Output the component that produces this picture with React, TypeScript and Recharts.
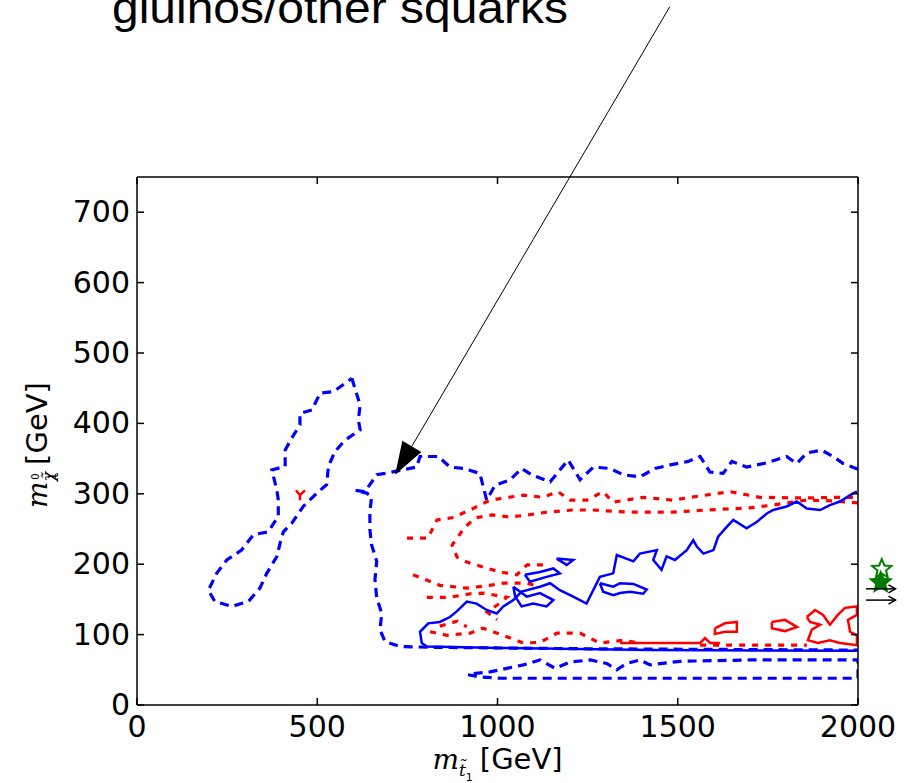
import { LineChart, Line, XAxis, YAxis } from "recharts";

const W = 919;
const H = 783;
// plot box in page pixels
const PLOT = { left: 137, top: 177, right: 858, bottom: 705 };
const X_DOMAIN: [number, number] = [0, 2000];
const Y_DOMAIN: [number, number] = [0, 750];
const xTicks = [0, 500, 1000, 1500, 2000];
const yTicks = [0, 100, 200, 300, 400, 500, 600, 700];

type Pt = [number, number];

// blue dashed, left island
const blueDashLeft: Pt[] = [
  [596, 464], [619, 426], [614, 405], [619, 391], [577, 376], [549, 360], [531, 339],
  [526, 313], [499, 301], [461, 282], [429, 258], [406, 246], [397, 230], [388, 211],
  [360, 187], [341, 166], [309, 147], [263, 140], [216, 147], [198, 163], [221, 187],
  [249, 206], [290, 220], [323, 242], [364, 246], [392, 268], [392, 291], [388, 305],
  [374, 334], [411, 339], [411, 362], [429, 379], [452, 398], [452, 414], [485, 419],
  [508, 443], [545, 445], [577, 457], [596, 464],
];

// blue dashed, big region on the right
const blueDashBig: Pt[] = [
  [2000, 335], [1959, 343], [1931, 353], [1899, 362], [1858, 358], [1830, 343], [1802, 353],
  [1747, 344], [1691, 338], [1650, 346], [1626, 329], [1589, 331], [1562, 353], [1529, 346],
  [1479, 341], [1437, 336], [1395, 324], [1349, 327], [1312, 336], [1266, 338], [1229, 320],
  [1196, 348], [1146, 317], [1095, 327], [1067, 336], [1035, 320], [993, 312], [970, 291],
  [951, 329], [905, 336], [868, 338], [836, 353], [785, 353], [776, 338], [688, 329],
  [665, 327], [632, 303], [605, 305], [637, 301], [651, 296], [646, 275], [646, 249],
  [651, 227], [665, 204], [660, 178], [665, 152], [679, 130], [674, 107], [688, 90],
  [730, 83], [813, 82], [1200, 80], [1600, 79], [2000, 78],
];

// blue dashed, low band
const blueDashLow: Pt[] = [
  [918, 43], [951, 40], [1007, 38], [1400, 38], [2000, 38], [2000, 64], [1700, 64],
  [1506, 62], [1423, 57], [1395, 64], [1358, 59], [1331, 50], [1303, 59], [1257, 64],
  [1201, 61], [1160, 52], [1118, 64], [1072, 57], [1026, 52], [979, 47], [924, 44], [918, 43],
];

// blue solid main contour
const blueSolid: Pt[] = [
  [1997, 303], [1987, 301], [1950, 289], [1922, 284], [1895, 277], [1858, 279], [1830, 289],
  [1802, 282], [1765, 277], [1747, 272], [1719, 260], [1691, 251], [1654, 263], [1636, 253],
  [1612, 239], [1599, 220], [1571, 215], [1553, 225], [1543, 234], [1525, 220], [1492, 206],
  [1469, 211], [1455, 192], [1432, 206], [1442, 220], [1395, 215], [1377, 204], [1331, 213],
  [1321, 187], [1284, 182], [1247, 144], [1210, 154], [1173, 163], [1146, 173], [1118, 168],
  [1067, 161], [1044, 149], [1016, 140], [998, 130], [970, 135], [942, 144], [915, 147],
  [887, 133], [868, 125], [840, 118], [808, 116], [785, 104], [790, 88], [804, 83],
  [1007, 81], [1423, 78], [2000, 77],
];
const blueLoopA: Pt[] = [[1076, 185], [1118, 189], [1155, 194], [1173, 187], [1136, 182], [1090, 175], [1076, 185]];
const blueLoopA2: Pt[] = [[1164, 208], [1210, 206], [1192, 199], [1164, 208]];
const blueLoopB: Pt[] = [
  [1044, 168], [1081, 154], [1118, 159], [1155, 149], [1136, 140], [1099, 144], [1067, 140], [1049, 154], [1044, 168],
];
const blueLoopC: Pt[] = [
  [1284, 173], [1321, 168], [1340, 173], [1377, 172], [1414, 164], [1404, 158], [1368, 161],
  [1340, 159], [1321, 156], [1293, 161], [1284, 173],
];

// red dashed pieces
const redDash1: Pt[] = [
  [749, 237], [807, 237], [832, 263], [874, 266], [924, 277], [979, 291], [1071, 298], [1126, 295],
  [1168, 303], [1201, 291], [1248, 291], [1293, 303], [1320, 288], [1404, 295], [1487, 291],
  [1562, 297], [1645, 303], [1728, 295], [1856, 294], [1931, 295], [2000, 295],
];
const redDash2: Pt[] = [
  [2000, 287], [1931, 290], [1856, 291], [1764, 284], [1700, 280], [1581, 277], [1487, 274],
  [1359, 274], [1265, 277], [1209, 277], [1137, 274], [1085, 270], [1035, 267], [985, 270],
  [940, 266], [910, 253], [874, 227], [888, 210], [915, 203], [960, 196], [1007, 189],
  [1054, 185], [1082, 199], [1132, 199],
];
const redDash3: Pt[] = [[766, 185], [840, 170], [915, 166], [979, 170], [1015, 173], [1082, 173], [1118, 168]];
const redDash4: Pt[] = [[804, 153], [868, 153], [924, 158], [960, 159], [1026, 153], [999, 142], [971, 132], [999, 121]];
const redDash5: Pt[] = [
  [813, 104], [860, 99], [924, 102], [960, 109], [1026, 97], [1071, 88], [1118, 89], [1165, 102],
  [1229, 102], [1284, 88], [1348, 92], [1395, 88],
];
const redDash6: Pt[] = [[840, 112], [888, 119], [915, 111]];
const redDash7: Pt[] = [[1562, 85], [1728, 85], [1858, 85]];

// red solid pieces
const redSolid1: Pt[] = [[1340, 88], [1562, 88], [1576, 95], [1590, 88], [1617, 88]];
const redSolid2: Pt[] = [[1603, 109], [1631, 116], [1664, 118], [1664, 104], [1631, 104], [1603, 101], [1603, 109]];
const redSolid3: Pt[] = [[1761, 118], [1797, 121], [1831, 111], [1797, 105], [1761, 109], [1761, 118]];
const redSolid4: Pt[] = [
  [1858, 125], [1881, 135], [1903, 128], [1922, 114], [1944, 128], [1964, 138], [1997, 140],
  [1997, 128], [1972, 121], [1978, 104], [1997, 99], [1997, 85], [1950, 88], [1922, 92],
  [1889, 88], [1861, 92], [1872, 107], [1895, 114], [1867, 118], [1858, 125],
];
const redSolid5: Pt[] = [[441, 305], [452, 298], [466, 305], [452, 298], [452, 291]];

// annotation (data units)
const arrowTail: Pt = [1478, 992];
const arrowTip: Pt = [716, 327];
const starOpen: Pt = [2066, 193];
const starFilled: Pt = [2063, 174];
const sideArrows: Pt[] = [[2022, 165], [2022, 149]];
const sideArrowLen = 82;

const BLUE = "#0000ff";
const RED = "#ff0000";

const series = [
  { d: blueDashLeft, c: BLUE, dash: true },
  { d: blueDashBig, c: BLUE, dash: true },
  { d: blueDashLow, c: BLUE, dash: true },
  { d: redDash1, c: RED, dash: true },
  { d: redDash2, c: RED, dash: true },
  { d: redDash3, c: RED, dash: true },
  { d: redDash4, c: RED, dash: true },
  { d: redDash5, c: RED, dash: true },
  { d: redDash6, c: RED, dash: true },
  { d: redDash7, c: RED, dash: true },
  { d: redSolid1, c: RED, dash: false },
  { d: redSolid2, c: RED, dash: false },
  { d: redSolid3, c: RED, dash: false },
  { d: redSolid4, c: RED, dash: false },
  { d: redSolid5, c: RED, dash: false },
  { d: blueSolid, c: BLUE, dash: false },
  { d: blueLoopA, c: BLUE, dash: false },
  { d: blueLoopA2, c: BLUE, dash: false },
  { d: blueLoopB, c: BLUE, dash: false },
  { d: blueLoopC, c: BLUE, dash: false },
];

const px = (x: number) => PLOT.left + ((x - X_DOMAIN[0]) / (X_DOMAIN[1] - X_DOMAIN[0])) * (PLOT.right - PLOT.left);
const py = (y: number) => PLOT.bottom - ((y - Y_DOMAIN[0]) / (Y_DOMAIN[1] - Y_DOMAIN[0])) * (PLOT.bottom - PLOT.top);

const TICK_FONT = "'DejaVu Sans', sans-serif";

function BottomTick({ x, y, payload }: any) {
  return (
    <g>
      <line x1={x} y1={y} x2={x} y2={y - 7} stroke="#000" strokeWidth={1.5} />
      <text x={x} y={y + 32} textAnchor="middle" fontFamily={TICK_FONT} fontSize={30} fill="#000">
        {payload.value}
      </text>
    </g>
  );
}
function TopTick({ x, y }: any) {
  return <line x1={x} y1={y} x2={x} y2={y + 7} stroke="#000" strokeWidth={1.5} />;
}
function LeftTick({ x, y, payload }: any) {
  return (
    <g>
      <line x1={x} y1={y} x2={x + 7} y2={y} stroke="#000" strokeWidth={1.5} />
      <text x={x - 7} y={y + 10} textAnchor="end" fontFamily={TICK_FONT} fontSize={30} fill="#000">
        {payload.value}
      </text>
    </g>
  );
}
function RightTick({ x, y }: any) {
  return <line x1={x} y1={y} x2={x - 7} y2={y} stroke="#000" strokeWidth={1.5} />;
}

function XLabel({ viewBox }: any) {
  const cx = viewBox.x + viewBox.width / 2;
  const by = viewBox.y + 64;
  return (
    <text x={cx} y={by} textAnchor="middle" fill="#000" fontFamily={TICK_FONT} fontSize={29}>
      <tspan fontFamily="'DejaVu Serif', serif" fontStyle="italic" fontSize={28}>m</tspan>
      <tspan fontFamily="'DejaVu Serif', serif" fontStyle="italic" fontSize={17} dy={7}>t̃</tspan>
      <tspan fontSize={11} dy={5}>1</tspan>
      <tspan dy={-12} dx={7}>[GeV]</tspan>
    </text>
  );
}

function YLabel({ viewBox }: any) {
  const cx = viewBox.x - 30;
  const cy = viewBox.y + viewBox.height / 2 + 4;
  return (
    <text
      x={cx}
      y={cy}
      transform={`rotate(-90, ${cx}, ${cy})`}
      textAnchor="middle"
      fill="#000"
      fontFamily={TICK_FONT}
      fontSize={29}
    >
      <tspan fontFamily="'DejaVu Serif', serif" fontStyle="italic" fontSize={28}>m</tspan>
      <tspan fontFamily="'DejaVu Serif', serif" fontStyle="italic" fontSize={16} dy={7}>χ̃</tspan>
      <tspan fontSize={10} dy={-15} dx={-8}>0</tspan>
      <tspan fontSize={10} dy={17} dx={-6}>1</tspan>
      <tspan dy={-9} dx={8}>[GeV]</tspan>
    </text>
  );
}

function starPoints(cx: number, cy: number, r: number) {
  const pts: string[] = [];
  for (let i = 0; i < 10; i++) {
    const rr = i % 2 === 0 ? r : r * 0.45;
    const a = -Math.PI / 2 + (i * Math.PI) / 5;
    pts.push(`${cx + rr * Math.cos(a)},${cy + rr * Math.sin(a)}`);
  }
  return pts.join(" ");
}

function Overlay() {
  const tx = px(arrowTail[0]);
  const ty = py(arrowTail[1]);
  const hx = px(arrowTip[0]);
  const hy = py(arrowTip[1]);
  const len = Math.hypot(hx - tx, hy - ty);
  const ux = (hx - tx) / len;
  const uy = (hy - ty) / len;
  const bx = hx - ux * 33;
  const by = hy - uy * 33;
  const head = `${hx},${hy} ${bx - uy * 11},${by + ux * 11} ${bx + uy * 11},${by - ux * 11}`;
  return (
    <svg
      width={W}
      height={H}
      style={{ position: "absolute", left: 0, top: 0, pointerEvents: "none" }}
    >
      <text
        x={112}
        y={23}
        fontFamily="'Liberation Sans', Arial, sans-serif"
        fontSize={44}
        textLength={456}
        lengthAdjust="spacingAndGlyphs"
        fill="#000"
      >
        gluinos/other squarks
      </text>
      <line x1={tx} y1={ty} x2={bx} y2={by} stroke="#000" strokeWidth={1} />
      <polygon points={head} fill="#000" />
      <polygon
        points={starPoints(px(starOpen[0]), py(starOpen[1]), 10)}
        fill="#ffffff"
        stroke="#008000"
        strokeWidth={2}
      />
      <polygon points={starPoints(px(starFilled[0]), py(starFilled[1]), 13)} fill="#007a00" />
      {sideArrows.map(([x, y], i) => {
        const x1 = px(x);
        const x2 = px(x + sideArrowLen);
        const yy = py(y);
        return (
          <g key={i}>
            <line x1={x1} y1={yy} x2={x2} y2={yy} stroke="#000" strokeWidth={1.5} />
            <polyline points={`${x2 - 7},${yy - 4} ${x2},${yy} ${x2 - 7},${yy + 4}`} fill="none" stroke="#000" strokeWidth={1.5} />
          </g>
        );
      })}
    </svg>
  );
}

export default function App() {
  return (
    <div style={{ position: "absolute", left: 0, top: 0, width: W, height: H, background: "#fff" }}>
      <LineChart
        width={W}
        height={H}
        margin={{ top: PLOT.top - 10, right: W - PLOT.right - 10, bottom: H - PLOT.bottom - 40, left: PLOT.left - 60 }}
      >
        <XAxis
          xAxisId="bottom"
          dataKey="x"
          type="number"
          domain={X_DOMAIN}
          ticks={xTicks}
          interval={0}
          allowDataOverflow
          height={40}
          tickSize={0}
          tickMargin={0}
          tick={<BottomTick />}
          axisLine={{ stroke: "#000", strokeWidth: 1.5 }}
          label={<XLabel />}
        />
        <XAxis
          xAxisId="top"
          orientation="top"
          dataKey="x"
          type="number"
          domain={X_DOMAIN}
          ticks={xTicks}
          interval={0}
          allowDataOverflow
          height={10}
          tickSize={0}
          tickMargin={0}
          tick={<TopTick />}
          axisLine={{ stroke: "#000", strokeWidth: 1.5 }}
        />
        <YAxis
          yAxisId="left"
          type="number"
          domain={Y_DOMAIN}
          ticks={yTicks}
          interval={0}
          allowDataOverflow
          width={60}
          tickSize={0}
          tickMargin={0}
          tick={<LeftTick />}
          axisLine={{ stroke: "#000", strokeWidth: 1.5 }}
          label={<YLabel />}
        />
        <YAxis
          yAxisId="right"
          orientation="right"
          type="number"
          domain={Y_DOMAIN}
          ticks={yTicks}
          interval={0}
          allowDataOverflow
          width={10}
          tickSize={0}
          tickMargin={0}
          tick={<RightTick />}
          axisLine={{ stroke: "#000", strokeWidth: 1.5 }}
        />
        {series.map((s, i) => (
          <Line
            key={i}
            xAxisId="bottom"
            yAxisId="left"
            data={s.d.map(([x, y]) => ({ x, y }))}
            dataKey="y"
            type="linear"
            stroke={s.c}
            strokeWidth={s.dash ? 3.2 : 2.5}
            strokeDasharray={s.dash ? (s.c === RED ? "6 7" : "9 6") : undefined}
            dot={false}
            activeDot={false}
            isAnimationActive={false}
          />
        ))}
      </LineChart>
      <Overlay />
    </div>
  );
}
